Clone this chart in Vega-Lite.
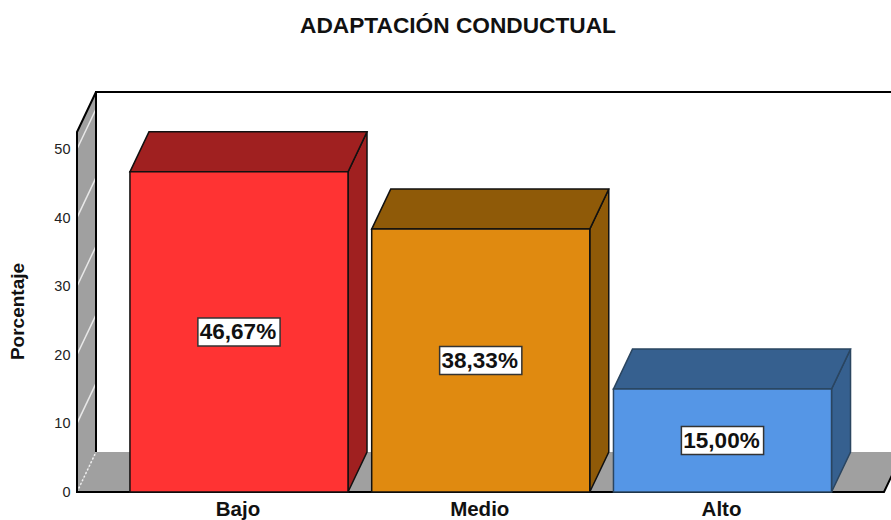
{"$schema":"https://vega.github.io/schema/vega-lite/v6.json","width":814,"height":400,"autosize":{"type":"none"},"padding":{"left":77,"top":92,"right":0,"bottom":28},"background":"white","title":{"text":"ADAPTACIÓN CONDUCTUAL","font":"Liberation Sans","fontSize":22.7,"fontWeight":"bold","color":"#111111","anchor":"middle","dx":-26,"offset":50},"config":{"view":{"stroke":null}},"datasets":{"barras":[{"categoria":"Bajo","porcentaje":46.67,"etiqueta":"46,67%"},{"categoria":"Medio","porcentaje":38.33,"etiqueta":"38,33%"},{"categoria":"Alto","porcentaje":15.0,"etiqueta":"15,00%"}]},"encoding":{"x":{"field":"x","type":"quantitative","title":null,"scale":{"domain":[-0.67,2.697],"nice":false,"zero":false},"axis":{"values":[0,1,2],"labelExpr":"['Bajo','Medio','Alto'][datum.value]","grid":false,"ticks":false,"domain":false,"labelFont":"Liberation Sans","labelFontSize":20.5,"labelFontWeight":"bold","labelColor":"#111111","labelPadding":7,"labelOffset":-1.5}},"y":{"field":"y","type":"quantitative","title":"Porcentaje","scale":{"domain":[0,58.31],"nice":false,"zero":false},"axis":{"values":[0,10,20,30,40,50],"grid":false,"ticks":false,"domain":false,"labelFont":"Liberation Sans","labelFontSize":14.5,"labelColor":"#222222","labelPadding":7,"labelOffset":0.5,"titleFont":"Liberation Sans","titleFontSize":19,"titleFontWeight":"bold","titleColor":"#111111","titleX":-50,"titleY":219}}},"resolve":{"scale":{"fill":"independent","stroke":"independent"}},"layer":[{"data":{"values":[{"x":-0.67,"y":52.48,"y2":0},{"x":-0.5914,"y":58.31,"y2":5.83}]},"mark":{"type":"area","fill":"#A0A0A0"},"encoding":{"y2":{"field":"y2"}}},{"data":{"values":[{"y":0,"x":-0.67,"x2":2.668},{"y":5.83,"x":-0.5914,"x2":2.7466}]},"mark":{"type":"area","orient":"horizontal","fill":"#A0A0A0"},"encoding":{"x2":{"field":"x2"}}},{"data":{"values":[{"x":-0.67,"x2":-0.5914,"y":10,"y2":15.83},{"x":-0.67,"x2":-0.5914,"y":20,"y2":25.83},{"x":-0.67,"x2":-0.5914,"y":30,"y2":35.83},{"x":-0.67,"x2":-0.5914,"y":40,"y2":45.83},{"x":-0.67,"x2":-0.5914,"y":50,"y2":55.83}]},"mark":{"type":"rule","color":"#E8E8E8","strokeWidth":1.5},"encoding":{"x2":{"field":"x2"},"y2":{"field":"y2"}}},{"data":{"values":[{"x":-0.67,"x2":-0.5914,"y":0,"y2":5.83}]},"mark":{"type":"rule","color":"#F0F0F0","strokeWidth":1.5,"strokeDash":[2,2]},"encoding":{"x2":{"field":"x2"},"y2":{"field":"y2"}}},{"data":{"values":[{"tramo":"a","n":1,"x":-0.5914,"y":5.83},{"tramo":"a","n":2,"x":-0.5914,"y":58.31},{"tramo":"a","n":3,"x":2.76,"y":58.31},{"tramo":"b","n":1,"x":-0.5914,"y":58.31},{"tramo":"b","n":2,"x":-0.67,"y":52.48},{"tramo":"b","n":3,"x":-0.67,"y":0},{"tramo":"b","n":4,"x":2.668,"y":0},{"tramo":"b","n":5,"x":2.7466,"y":5.83}]},"mark":{"type":"line","color":"#000000","strokeWidth":2},"encoding":{"detail":{"field":"tramo"},"order":{"field":"n"}}},{"data":{"name":"barras"},"transform":[{"calculate":"indexof(['Bajo','Medio','Alto'],datum.categoria)","as":"i"},{"calculate":"[datum.i+0.451,datum.i+0.5296]","as":"x"},{"calculate":"[datum.porcentaje,datum.porcentaje+5.83]","as":"y"},{"calculate":"[0,5.83]","as":"y2"},{"flatten":["x","y","y2"]}],"mark":{"type":"area","strokeWidth":1.5},"encoding":{"y2":{"field":"y2"},"fill":{"field":"categoria","type":"nominal","legend":null,"scale":{"domain":["Bajo","Medio","Alto"],"range":["#A02020","#8F5A08","#36608F"]}},"stroke":{"field":"categoria","type":"nominal","legend":null,"scale":{"domain":["Bajo","Medio","Alto"],"range":["#111111","#111111","#2A4560"]}}}},{"data":{"name":"barras"},"transform":[{"calculate":"indexof(['Bajo','Medio','Alto'],datum.categoria)","as":"i"},{"calculate":"[datum.i-0.451,datum.i-0.3724]","as":"x"},{"calculate":"[datum.i+0.451,datum.i+0.5296]","as":"x2"},{"calculate":"[datum.porcentaje,datum.porcentaje+5.83]","as":"y"},{"flatten":["x","x2","y"]}],"mark":{"type":"area","orient":"horizontal","strokeWidth":1.5},"encoding":{"x2":{"field":"x2"},"fill":{"field":"categoria","type":"nominal","legend":null,"scale":{"domain":["Bajo","Medio","Alto"],"range":["#A02020","#8F5A08","#36608F"]}},"stroke":{"field":"categoria","type":"nominal","legend":null,"scale":{"domain":["Bajo","Medio","Alto"],"range":["#111111","#111111","#2A4560"]}}}},{"data":{"name":"barras"},"transform":[{"calculate":"indexof(['Bajo','Medio','Alto'],datum.categoria)","as":"i"},{"calculate":"datum.i-0.451","as":"x"},{"calculate":"datum.i+0.451","as":"x2"},{"calculate":"datum.porcentaje","as":"y"},{"calculate":"0","as":"y2"}],"mark":{"type":"rect","strokeWidth":1.5},"encoding":{"x2":{"field":"x2"},"y2":{"field":"y2"},"fill":{"field":"categoria","type":"nominal","legend":null,"scale":{"domain":["Bajo","Medio","Alto"],"range":["#FF3333","#E08A10","#5596E6"]}},"stroke":{"field":"categoria","type":"nominal","legend":null,"scale":{"domain":["Bajo","Medio","Alto"],"range":["#111111","#111111","#2A4560"]}}}},{"data":{"name":"barras"},"transform":[{"calculate":"indexof(['Bajo','Medio','Alto'],datum.categoria)","as":"i"},{"calculate":"datum.i-0.17","as":"x"},{"calculate":"datum.i+0.17","as":"x2"},{"calculate":"datum.porcentaje/2+2.04","as":"y"},{"calculate":"datum.porcentaje/2-2.04","as":"y2"}],"mark":{"type":"rect","fill":"white","stroke":"#333333","strokeWidth":1.5},"encoding":{"x2":{"field":"x2"},"y2":{"field":"y2"}}},{"data":{"name":"barras"},"transform":[{"calculate":"indexof(['Bajo','Medio','Alto'],datum.categoria)","as":"x"},{"calculate":"datum.porcentaje/2","as":"y"}],"mark":{"type":"text","font":"Liberation Sans","fontSize":22.5,"fontWeight":"bold","color":"#111111","baseline":"middle","align":"center","dx":-1},"encoding":{"text":{"field":"etiqueta"}}}]}
